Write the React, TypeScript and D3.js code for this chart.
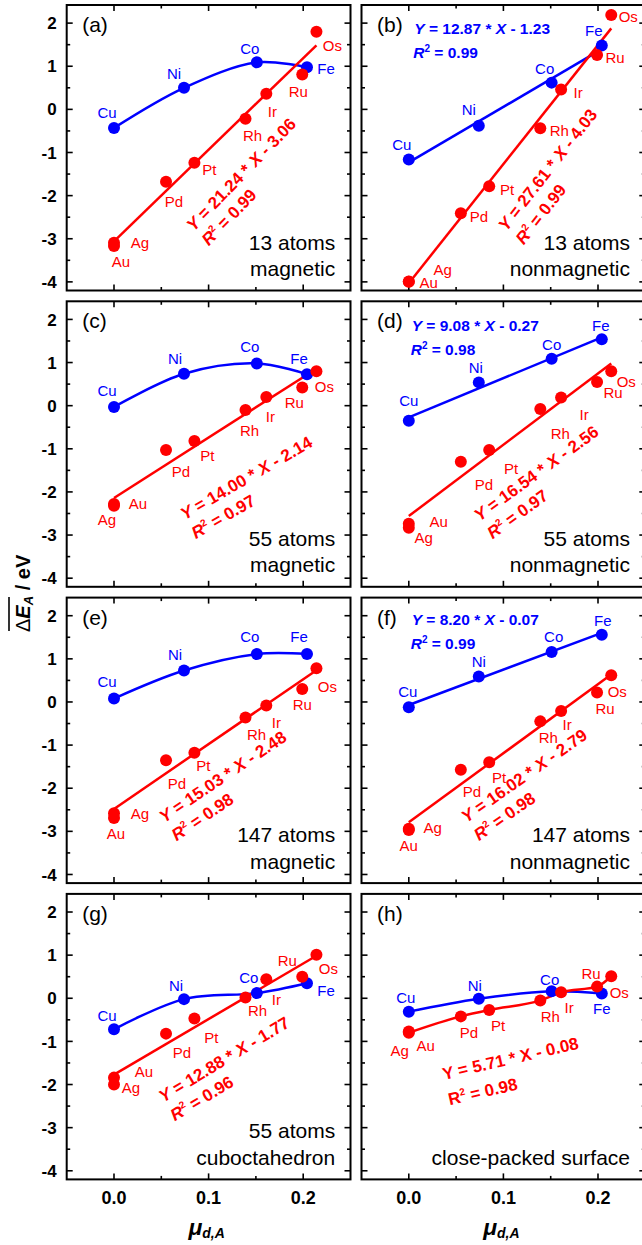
import React from 'react';
import * as d3 from 'd3';

// ---------- data ----------
const BLUE_ELEMENTS = ['Cu', 'Ni', 'Co', 'Fe'];
const RED_ELEMENTS = ['Ag', 'Au', 'Pd', 'Pt', 'Rh', 'Ir', 'Ru', 'Os'];
const MU_BLUE = [0, 0.074, 0.151, 0.204];
const MU_RED = [0, 0, 0.055, 0.085, 0.139, 0.161, 0.199, 0.214];

const PANEL_LETTERS = ['(a)', '(b)', '(c)', '(d)', '(e)', '(f)', '(g)', '(h)'];

const BLUE_A = [-0.43, 0.5, 1.09, 0.975];
const BLUE_B = [-1.16, -0.38, 0.62, 1.48];
const BLUE_C = [-0.03, 0.74, 0.98, 0.73];
const BLUE_D = [-0.35, 0.54, 1.09, 1.54];
const BLUE_E = [0.08, 0.73, 1.11, 1.11];
const BLUE_F = [-0.12, 0.59, 1.16, 1.56];
const BLUE_G = [-0.72, -0.02, 0.12, 0.35];
const BLUE_H = [-0.31, -0.01, 0.16, 0.11];
const BLUE_VALUES = [BLUE_A, BLUE_B, BLUE_C, BLUE_D, BLUE_E, BLUE_F, BLUE_G, BLUE_H];

const RED_A = [-3.09, -3.17, -1.68, -1.24, -0.22, 0.36, 0.81, 1.8];
const RED_B = [-3.99, -4.0, -2.41, -1.78, -0.44, 0.46, 1.26, 2.19];
const RED_C = [-2.32, -2.28, -1.03, -0.82, -0.1, 0.2, 0.42, 0.8];
const RED_D = [-2.83, -2.74, -1.3, -1.03, -0.08, 0.19, 0.55, 0.8];
const RED_E = [-2.58, -2.69, -1.35, -1.18, -0.36, -0.08, 0.3, 0.78];
const RED_F = [-2.94, -2.97, -1.57, -1.4, -0.45, -0.21, 0.22, 0.62];
const RED_G = [-2.0, -1.84, -0.82, -0.47, 0.02, 0.44, 0.5, 1.01];
const RED_H = [-0.8, -0.77, -0.42, -0.27, -0.05, 0.14, 0.27, 0.51];
const RED_VALUES = [RED_A, RED_B, RED_C, RED_D, RED_E, RED_F, RED_G, RED_H];

// fits: slope, intercept, R²
const RED_SLOPE = ['21.24', '27.61', '14.00', '16.54', '15.03', '16.02', '12.88', '5.71'];
const RED_INTERCEPT = ['3.06', '4.03', '2.14', '2.56', '2.48', '2.79', '1.77', '0.08'];
const RED_R2 = ['0.99', '0.99', '0.97', '0.97', '0.98', '0.98', '0.96', '0.98'];
const BLUE_SLOPE = [null, '12.87', null, '9.08', null, '8.20', null, null];
const BLUE_INTERCEPT = [null, '1.23', null, '0.27', null, '0.07', null, null];
const BLUE_R2 = [null, '0.99', null, '0.98', null, '0.99', null, null];
// how the lines are drawn: 'fit' = regression line, 'curve' = smooth curve through points
const RED_LINE = ['fit', 'fit', 'fit', 'fit', 'fit', 'fit', 'fit', 'curve'];
const BLUE_LINE = ['curve', 'fit', 'curve', 'fit', 'curve', 'fit', 'curve', 'curve'];

const CAPTION_1 = ['13 atoms', '13 atoms', '55 atoms', '55 atoms', '147 atoms', '147 atoms', '55 atoms', ''];
const CAPTION_2 = ['magnetic', 'nonmagnetic', 'magnetic', 'nonmagnetic', 'magnetic', 'nonmagnetic', 'cuboctahedron', 'close-packed surface'];

const Y_TICKS = [2, 1, 0, -1, -2, -3, -4];
const Y_MINOR = [1.5, 0.5, -0.5, -1.5, -2.5, -3.5];
const X_TICKS = [0.0, 0.1, 0.2];
const X_MINOR = [0.05, 0.15];

// ---------- layout / style ----------
const W = 642;
const H = 1245;
const COL_X = [[66.7, 350.5], [361.5, 645.3]];
const ROW_TOP = [5, 301.3, 597.6, 893.9];
const PANEL_H = 285.5;
const X_DOMAIN = [-0.05, 0.25];
const Y_DOMAIN = [-4.2, 2.42];
const RED = '#ff0000';
const BLUE = '#0000ff';
const FONT = 'Liberation Sans, Arial, Helvetica, sans-serif';

// label offsets (px) per panel: blue [Cu,Ni,Co,Fe], red [Ag,Au,Pd,Pt,Rh,Ir,Ru,Os]
const BLUE_LABEL_OFF = [
  [[-7, -15], [-10, -14], [-7, -14], [19, 1]],
  [[-7, -15], [-10, -16], [-7, -14], [-8, -15]],
  [[-7, -16], [-9, -15], [-7, -17], [-8, -16]],
  [[0, -20], [-3, -15], [0, -14], [-1, -14]],
  [[-7, -17], [-9, -16], [-7, -17], [-8, -17]],
  [[-1, -16], [0, -15], [2, -15], [1, -14]],
  [[-7, -14], [-8, -14], [-8, -15], [19, 7]],
  [[-3, -14], [-4, -13], [-2, -12], [0, 15]],
];
const RED_LABEL_OFF = [
  [[26, 0], [7, 16], [8, 20], [15, 7], [7, 17], [6, 18], [-4, 17], [16, 14]],
  [[34, -12], [20, 1], [18, 3], [18, 3], [19, 2], [17, 3], [18, 3], [17, 2]],
  [[-7, 14], [24, 0], [15, 22], [13, 15], [4, 21], [4, 20], [-8, 15], [8, 15]],
  [[15, 10], [30, -2], [23, 23], [22, 19], [20, 24], [23, 17], [16, 11], [15, 10]],
  [[26, 0], [2, 16], [11, 23], [9, 13], [11, 17], [10, 17], [0, 16], [11, 18]],
  [[24, -1], [0, 16], [11, 22], [10, 15], [8, 16], [6, 14], [8, 16], [6, 16]],
  [[17, 3], [30, -6], [16, 19], [17, 19], [12, 13], [10, 20], [-15, -16], [12, 14]],
  [[-9, 18], [17, 14], [8, 16], [9, 16], [10, 16], [8, 15], [-6, -13], [8, 16]],
];
// red equation anchor (panel-local px), rotation, line spacing
const RED_EQ_POS = [
  [127, 227, -46, 21],
  [145, 227, -52, 22],
  [118, 219, -30, 22],
  [118, 220.5, -36, 22],
  [97.6, 225.7, -34, 22],
  [105, 225.7, -35, 22],
  [96.6, 208.8, -31, 22],
  [82.5, 186, -13, 26],
];
const BLUE_EQ_POS = [null, [52.8, 29.3], null, [50.2, 29.4], null, [50.2, 27.4], null, null];

function Panel({ i }: { i: number }) {
  const col = i % 2;
  const row = Math.floor(i / 2);
  const [x0, x1] = COL_X[col];
  const top = ROW_TOP[row];
  const bottom = top + PANEL_H;
  const x = d3.scaleLinear().domain(X_DOMAIN).range([x0, x1]);
  const y = d3.scaleLinear().domain(Y_DOMAIN).range([bottom, top]);
  const line = d3.line<[number, number]>().x((d) => x(d[0])).y((d) => y(d[1]));
  const smooth = (curve: any) => d3.line<[number, number]>().x((d) => x(d[0])).y((d) => y(d[1])).curve(curve);

  const bluePts: [number, number][] = MU_BLUE.map((m, k) => [m, BLUE_VALUES[i][k]]);
  const redPts: [number, number][] = MU_RED.map((m, k) => [m, RED_VALUES[i][k]]);

  let redPath = '';
  if (RED_LINE[i] === 'fit') {
    const s = +RED_SLOPE[i];
    const b = -RED_INTERCEPT[i];
    const xm = d3.max(MU_RED) as number;
    redPath = line([[0, b], [xm, s * xm + b]]) || '';
  } else {
    const pts = redPts.filter((_, k) => k !== 1);
    redPath = smooth(d3.curveMonotoneX)(pts) || '';
  }
  let bluePath = '';
  if (BLUE_LINE[i] === 'fit') {
    const s = +(BLUE_SLOPE[i] as string);
    const b = -(BLUE_INTERCEPT[i] as string);
    const xm = d3.max(MU_BLUE) as number;
    bluePath = line([[0, b], [xm, s * xm + b]]) || '';
  } else {
    bluePath = smooth(d3.curveCatmullRom.alpha(0.5))(bluePts) || '';
  }

  const majorLen = 6;
  const minorLen = 3.5;
  const ticks: React.ReactNode[] = [];
  Y_TICKS.forEach((t) => {
    ticks.push(<line key={'yl' + t} x1={x0} x2={x0 + majorLen} y1={y(t)} y2={y(t)} />);
    ticks.push(<line key={'yr' + t} x1={x1} x2={x1 - majorLen} y1={y(t)} y2={y(t)} />);
  });
  Y_MINOR.forEach((t) => {
    ticks.push(<line key={'yml' + t} x1={x0} x2={x0 + minorLen} y1={y(t)} y2={y(t)} />);
    ticks.push(<line key={'ymr' + t} x1={x1} x2={x1 - minorLen} y1={y(t)} y2={y(t)} />);
  });
  X_TICKS.forEach((t) => {
    ticks.push(<line key={'xb' + t} x1={x(t)} x2={x(t)} y1={bottom} y2={bottom - majorLen} />);
    ticks.push(<line key={'xt' + t} x1={x(t)} x2={x(t)} y1={top} y2={top + majorLen} />);
  });
  X_MINOR.forEach((t) => {
    ticks.push(<line key={'xmb' + t} x1={x(t)} x2={x(t)} y1={bottom} y2={bottom - minorLen} />);
    ticks.push(<line key={'xmt' + t} x1={x(t)} x2={x(t)} y1={top} y2={top + minorLen} />);
  });

  const italic = i !== 7 ? 'italic' : 'normal';
  const [ex, ey, ang, lh] = RED_EQ_POS[i];
  const bpos = BLUE_EQ_POS[i];

  return (
    <g>
      <rect x={x0} y={top} width={x1 - x0} height={PANEL_H} fill="none" stroke="#000" strokeWidth={2} />
      <g stroke="#000" strokeWidth={1.6}>{ticks}</g>

      {col === 0 &&
        Y_TICKS.map((t) => (
          <text key={'ytl' + t} x={x0 - 10} y={y(t)} dy="0.36em" textAnchor="end" fontSize={17} fontWeight="bold" fontFamily={FONT}>
            {t}
          </text>
        ))}
      {row === 3 &&
        X_TICKS.map((t) => (
          <text key={'xtl' + t} x={x(t)} y={bottom + 25} textAnchor="middle" fontSize={18} fontWeight="bold" fontFamily={FONT}>
            {d3.format('.1f')(t)}
          </text>
        ))}
      {row === 3 && (
        <text x={x(0.1) - 2} y={bottom + 56} textAnchor="middle" fontFamily={FONT} fontWeight="bold" fontStyle="italic">
          <tspan fontSize={23}>μ</tspan>
          <tspan fontSize={14} dy={3}>d,A</tspan>
        </text>
      )}

      <path d={bluePath} fill="none" stroke={BLUE} strokeWidth={2.5} />
      <path d={redPath} fill="none" stroke={RED} strokeWidth={2.5} />

      {bluePts.map((p, k) => (
        <circle key={'bc' + k} cx={x(p[0])} cy={y(p[1])} r={6} fill={BLUE} />
      ))}
      {redPts.map((p, k) => (
        <circle key={'rc' + k} cx={x(p[0])} cy={y(p[1])} r={6} fill={RED} />
      ))}

      {bluePts.map((p, k) => (
        <text key={'bl' + k} x={x(p[0]) + BLUE_LABEL_OFF[i][k][0]} y={y(p[1]) + BLUE_LABEL_OFF[i][k][1]} dy="0.36em" textAnchor="middle" fontSize={15} fontFamily={FONT} fill={BLUE}>
          {BLUE_ELEMENTS[k]}
        </text>
      ))}
      {redPts.map((p, k) => (
        <text key={'rl' + k} x={x(p[0]) + RED_LABEL_OFF[i][k][0]} y={y(p[1]) + RED_LABEL_OFF[i][k][1]} dy="0.36em" textAnchor="middle" fontSize={15} fontFamily={FONT} fill={RED}>
          {RED_ELEMENTS[k]}
        </text>
      ))}

      <text x={x0 + 15.5} y={top + 27} fontSize={21} fontFamily={FONT} fill="#000">
        {PANEL_LETTERS[i]}
      </text>
      {CAPTION_1[i] && (
        <text x={x0 + 268.5} y={top + 244.5} textAnchor="end" fontSize={21} fontFamily={FONT} fill="#000">
          {CAPTION_1[i]}
        </text>
      )}
      <text x={x0 + 268.5} y={top + 271} textAnchor="end" fontSize={21} fontFamily={FONT} fill="#000">
        {CAPTION_2[i]}
      </text>

      <text transform={`translate(${x0 + ex},${top + ey}) rotate(${ang})`} fontSize={17} fontWeight="bold" fontFamily={FONT} fill={RED}>
        <tspan x={0} y={0}>
          <tspan fontStyle={italic}>Y</tspan>
          {` = ${RED_SLOPE[i]} * `}
          <tspan fontStyle={italic}>X</tspan>
          {` - ${RED_INTERCEPT[i]}`}
        </tspan>
        <tspan x={0} y={lh}>
          <tspan fontStyle={italic}>R</tspan>
          <tspan fontSize={10} dy={-7}>2</tspan>
          <tspan dy={7}>{` = ${RED_R2[i]}`}</tspan>
        </tspan>
      </text>

      {bpos && (
        <text x={x0 + bpos[0]} y={top + bpos[1]} fontSize={15.5} fontWeight="bold" fontFamily={FONT} fill={BLUE}>
          <tspan x={x0 + bpos[0]}>
            <tspan fontStyle="italic">Y</tspan>
            {` = ${BLUE_SLOPE[i]} * `}
            <tspan fontStyle="italic">X</tspan>
            {` - ${BLUE_INTERCEPT[i]}`}
          </tspan>
          <tspan x={x0 + bpos[0] - 1} dy={24}>
            <tspan fontStyle="italic">R</tspan>
            <tspan fontSize={10} dy={-6}>2</tspan>
            <tspan dy={6}>{` = ${BLUE_R2[i]}`}</tspan>
          </tspan>
        </text>
      )}
    </g>
  );
}

export default function App() {
  return (
    <svg
      width={W}
      height={H}
      viewBox={`0 0 ${W} ${H}`}
      style={{ position: 'absolute', left: 0, top: 0, display: 'block', background: '#fff' }}
    >
      <rect x={0} y={0} width={W} height={H} fill="#fff" />
      {PANEL_LETTERS.map((_, i) => (
        <Panel key={i} i={i} />
      ))}
      <g transform="translate(30,591) rotate(-90)" fontFamily={FONT} fontWeight="bold">
        <text x={-41} y={0} fontSize={20}>
          <tspan fontWeight="normal">Δ</tspan>
          <tspan fontStyle="italic">E</tspan>
          <tspan fontSize={13} fontStyle="italic" dy={3}>A</tspan>
          <tspan dy={-3}>{' / eV'}</tspan>
        </text>
        <line x1={-40} x2={-6} y1={-21} y2={-21} stroke="#000" strokeWidth={1.6} />
      </g>
    </svg>
  );
}
